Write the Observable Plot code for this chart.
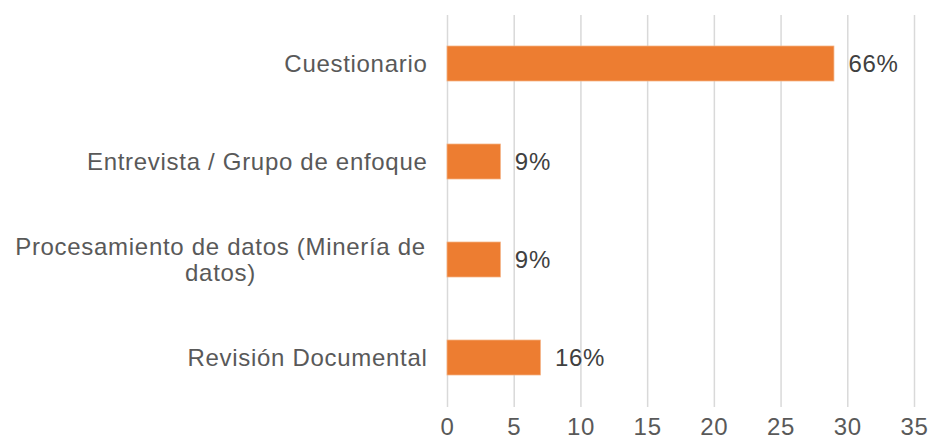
<!DOCTYPE html>
<html><head><meta charset="utf-8">
<script src="https://cdn.jsdelivr.net/npm/d3@7"></script>
<script src="https://cdn.jsdelivr.net/npm/@observablehq/plot@0.6"></script>
<style>
body{margin:0;background:#fff;}
#chart svg{font-family:"Liberation Sans",Arial,sans-serif;}
#chart svg text{letter-spacing:0.7px;}
</style>
</head><body><div id="chart"></div>
<script>
const categories = ["Cuestionario", "Entrevista / Grupo de enfoque", "Procesamiento de datos (Minería de datos)", "Revisión Documental"];
const categoryText = ["Cuestionario", "Entrevista / Grupo de enfoque", "Procesamiento de datos (Minería de\ndatos)", "Revisión Documental"];
const counts = [29, 4, 4, 7];
const percentLabels = ["66%", "9%", "9%", "16%"];
const xTicks = [0, 5, 10, 15, 20, 25, 30, 35];

const data = categories.map((c, i) => ({category: c, label: categoryText[i], count: counts[i], pct: percentLabels[i]}));
const single = data.filter(d => !d.label.includes("\n"));
const wrapped = data.filter(d => d.label.includes("\n"));

const chart = Plot.plot({
  width: 930,
  height: 441,
  marginLeft: 447,
  marginRight: 16,
  marginTop: 15,
  marginBottom: 34,
  style: {background: "#fff", fontSize: "24px"},
  x: {domain: [0, 35], ticks: xTicks},
  y: {domain: categories, paddingInner: 0.64, paddingOuter: 0.32, axis: null},
  marks: [
    Plot.gridX(xTicks, {stroke: "#d9d9d9", strokeOpacity: 1, strokeWidth: 1.5}),
    Plot.barX(data, {x: "count", y: "category", fill: "#ED7D31", stroke: "#F4B183", strokeWidth: 0.75}),
    Plot.text(data, {x: "count", y: "category", text: "pct", textAnchor: "start", dx: 14, fill: "#404040", fontSize: 24}),
    Plot.text(single, {x: () => 0, y: "category", text: "label", textAnchor: "end", dx: -20, fill: "#595959", fontSize: 24}),
    Plot.text(wrapped, {x: () => 0, y: "category", text: "label", textAnchor: "middle", dx: -227, lineHeight: 1.05, fill: "#595959", fontSize: 24}),
    Plot.axisX(xTicks, {tickSize: 0, tickPadding: 10, fontSize: 24, fill: "#595959", label: null})
  ]
});
document.getElementById("chart").append(chart);
</script>
</body></html>
